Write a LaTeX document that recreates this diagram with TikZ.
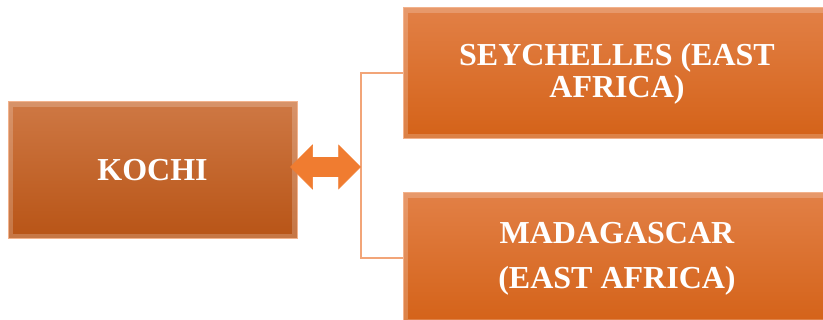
\documentclass[tikz,border=0pt]{standalone}
\usepackage{fontspec}
\setmainfont{Liberation Serif}
\definecolor{ktop}{RGB}{206,120,68}
\definecolor{kbot}{RGB}{184,84,22}
\definecolor{rtop}{RGB}{226,128,70}
\definecolor{rbot}{RGB}{212,98,24}
\definecolor{edge}{RGB}{242,178,140}
\definecolor{arrowc}{RGB}{240,124,48}
\definecolor{linec}{RGB}{242,165,120}
\tikzset{
  box/.style={rectangle, draw=edge, line width=1pt, text=white,
    font=\bfseries\fontsize{32}{32}\selectfont, align=center, inner sep=0pt,
    path picture={\draw[white,opacity=0.2,line width=10pt]
      (path picture bounding box.north west) rectangle (path picture bounding box.south east);}},
  kbox/.style={box, top color=ktop, bottom color=kbot, minimum width=289pt, minimum height=137pt},
  rbox/.style={box, top color=rtop, bottom color=rbot, minimum width=428pt, minimum height=131pt},
  link/.style={draw=linec, line width=2pt},
  dblarrow/.style={fill=arrowc, draw=arrowc, line width=0.5pt, line join=miter}
}
\begin{document}
\begin{tikzpicture}[x=1pt,y=-1pt]
\useasboundingbox (0,0) rectangle (823,320);
\clip (0,0) rectangle (823,320);
\node[kbox] (kochi) at (152.5,170.5) {KOCHI};
\node[rbox] (sey) at (617,73.5) {SEYCHELLES (EAST\\AFRICA)};
\node[rbox, font=\bfseries\fontsize{32}{45}\selectfont] (mad) at (617,258.5) {MADAGASCAR\\(EAST AFRICA)};
\coordinate (jn) at (360.5,167);
\coordinate (tipL) at ([xshift=-7pt]kochi.east |- jn);
\draw[link] (sey.west) -| (jn) |- (mad.west);
\path[dblarrow] ([shift={(20,-9.5)}]tipL) rectangle ([shift={(-20,9.5)}]jn);
\path[dblarrow] (tipL) -- ([shift={(22,-22)}]tipL) -- ([shift={(22,22)}]tipL) -- cycle;
\path[dblarrow] (jn) -- ([shift={(-22,-22)}]jn) -- ([shift={(-22,22)}]jn) -- cycle;
\end{tikzpicture}
\end{document}
